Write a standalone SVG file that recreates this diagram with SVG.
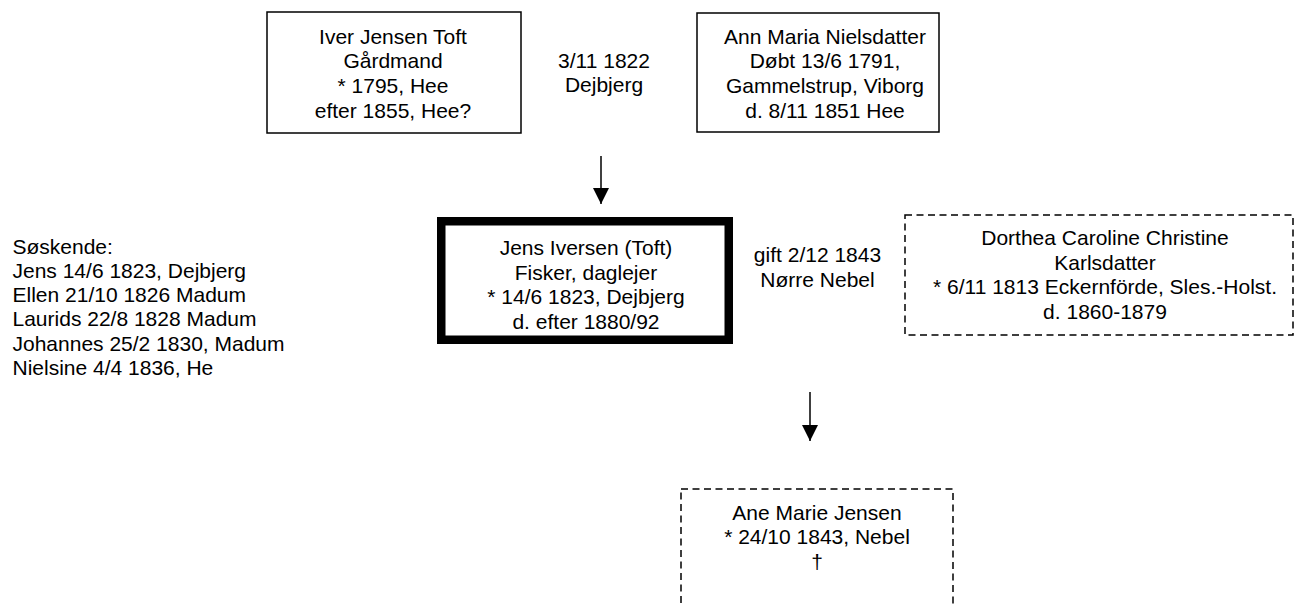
<svg xmlns="http://www.w3.org/2000/svg" width="1295" height="605" viewBox="0 0 1295 605">
  <defs>
    <style>
      text { font-family: "Liberation Sans", Arial, sans-serif; font-size: 21px; fill: #000; }
      .c { text-anchor: middle; }
      .box { fill: #fff; stroke: #000; stroke-width: 1.5; }
      .thick { fill: #fff; stroke: #000; stroke-width: 8.5; }
      .dash { fill: #fff; stroke: #000; stroke-width: 1.5; stroke-dasharray: 7 4.5; }
      .conn { stroke: #000; stroke-width: 1.5; fill: none; }
    </style>
    <marker id="arrow" markerUnits="userSpaceOnUse" markerWidth="18" markerHeight="18" refX="16" refY="8" orient="auto">
      <path d="M0,0 L16,8 L0,16 Z" fill="#000"/>
    </marker>
  </defs>

  <rect width="1295" height="605" fill="#fff"/>

  <g id="connectors">
    <line class="conn" x1="601" y1="156" x2="601" y2="204" marker-end="url(#arrow)"/>
    <line class="conn" x1="810" y1="392" x2="810" y2="441" marker-end="url(#arrow)"/>
  </g>

  <g id="father">
    <rect class="box" x="267" y="12" width="254" height="121"/>
    <text class="c" x="393" y="43.5">Iver Jensen Toft</text>
    <text class="c" x="393" y="68.3">Gårdmand</text>
    <text class="c" x="393" y="93">* 1795, Hee</text>
    <text class="c" x="393" y="117.7">efter 1855, Hee?</text>
  </g>

  <g id="marriage1">
    <text class="c" x="604" y="68.3">3/11 1822</text>
    <text class="c" x="604" y="91.5">Dejbjerg</text>
  </g>

  <g id="mother">
    <rect class="box" x="697" y="13" width="242" height="119"/>
    <text class="c" x="825" y="43.5">Ann Maria Nielsdatter</text>
    <text class="c" x="825" y="68.3">Døbt 13/6 1791,</text>
    <text class="c" x="825" y="93">Gammelstrup, Viborg</text>
    <text class="c" x="825" y="117.7">d. 8/11 1851 Hee</text>
  </g>

  <g id="siblings">
    <text x="12.5" y="253.5">Søskende:</text>
    <text x="12.5" y="277.8">Jens 14/6 1823, Dejbjerg</text>
    <text x="12.5" y="302.1">Ellen 21/10 1826 Madum</text>
    <text x="12.5" y="326.4">Laurids 22/8 1828 Madum</text>
    <text x="12.5" y="350.7">Johannes 25/2 1830, Madum</text>
    <text x="12.5" y="375">Nielsine 4/4 1836, He</text>
  </g>

  <g id="main">
    <rect class="thick" x="441.25" y="221.25" width="287.5" height="118.5"/>
    <text class="c" x="586" y="255">Jens Iversen (Toft)</text>
    <text class="c" x="586" y="279.5">Fisker, daglejer</text>
    <text class="c" x="586" y="304">* 14/6 1823, Dejbjerg</text>
    <text class="c" x="586" y="328.5">d. efter 1880/92</text>
  </g>

  <g id="marriage2">
    <text class="c" x="817.5" y="262">gift 2/12 1843</text>
    <text class="c" x="817.5" y="287">Nørre Nebel</text>
  </g>

  <g id="spouse">
    <rect class="dash" x="905" y="215" width="388" height="120"/>
    <text class="c" x="1105" y="245">Dorthea Caroline Christine</text>
    <text class="c" x="1105" y="269.5">Karlsdatter</text>
    <text class="c" x="1105" y="294">* 6/11 1813 Eckernförde, Sles.-Holst.</text>
    <text class="c" x="1105" y="318.5">d. 1860-1879</text>
  </g>

  <g id="child">
    <rect class="dash" x="681" y="489" width="272" height="130"/>
    <text class="c" x="817" y="519.5">Ane Marie Jensen</text>
    <text class="c" x="817" y="544">* 24/10 1843, Nebel</text>
    <text class="c" x="817" y="568.5">†</text>
  </g>
</svg>
